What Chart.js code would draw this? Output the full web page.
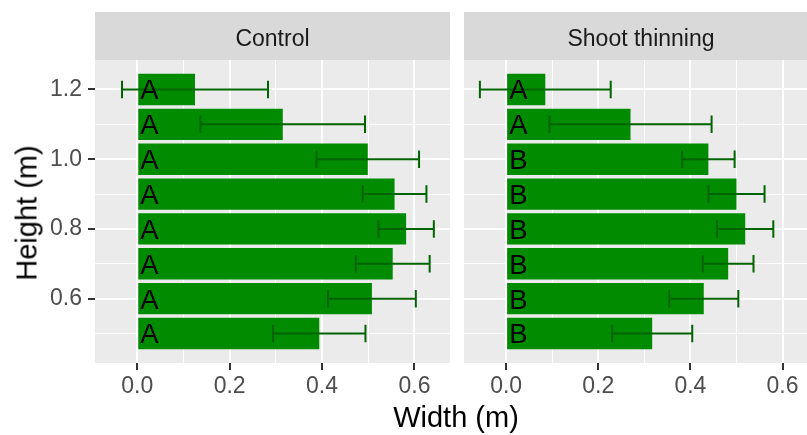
<!DOCTYPE html>
<html>
<head>
<meta charset="utf-8">
<script src="https://cdn.jsdelivr.net/npm/chart.js@4.4.1/dist/chart.umd.min.js"></script>
<style>
  html, body { margin: 0; padding: 0; background: #fff; overflow: hidden; width: 807px; height: 435px; }
  .panel { position: absolute; top: 0; height: 435px; }
  #left-wrap { left: 0; width: 450px; }
  #right-wrap { left: 464px; width: 354px; }
  .axis-title { position: absolute; font-family: "Liberation Sans", Arial, sans-serif; font-size: 29px; color: #000; white-space: nowrap; line-height: 1; }
  #x-title { left: 456px; top: 417px; transform: translate(-50%, -50%); }
  #y-title { left: 27px; top: 213px; transform: translate(-50%, -50%) rotate(-90deg); }
</style>
</head>
<body>
<div class="panel" id="left-wrap"><canvas id="controlChart"></canvas></div>
<div class="panel" id="right-wrap"><canvas id="thinningChart"></canvas></div>
<div class="axis-title" id="x-title">Width (m)</div>
<div class="axis-title" id="y-title">Height (m)</div>
<script>
// data (bottom to top)
const heights = [0.5, 0.6, 0.7, 0.8, 0.9, 1.0, 1.1, 1.2];
const controlWidth = [0.394, 0.508, 0.553, 0.582, 0.557, 0.499, 0.315, 0.125];
const controlErr = [0.100, 0.095, 0.080, 0.060, 0.069, 0.111, 0.178, 0.158];
const controlLetters = ['A', 'A', 'A', 'A', 'A', 'A', 'A', 'A'];
const thinningWidth = [0.317, 0.429, 0.482, 0.519, 0.500, 0.439, 0.270, 0.085];
const thinningErr = [0.087, 0.075, 0.055, 0.061, 0.061, 0.057, 0.176, 0.142];
const thinningLetters = ['B', 'B', 'B', 'B', 'B', 'B', 'A', 'A'];
const xTicks = [0, 0.2, 0.4, 0.6];
const yTicks = [0.6, 0.8, 1.0, 1.2];

const FONT = "'Liberation Sans', Arial, sans-serif";
Chart.defaults.font.family = FONT;

const isMajor = (v, list) => list.some(t => Math.abs(t - v) < 1e-6);

const panelPlugin = {
    id: 'panel',
    beforeDraw(chart, args, opts) {
        const { ctx, chartArea: a } = chart;
        ctx.save();
        ctx.fillStyle = '#EBEBEB';
        ctx.fillRect(a.left, a.top, a.right - a.left, a.bottom - a.top);
        // facet strip
        ctx.fillStyle = '#D9D9D9';
        ctx.fillRect(a.left, 12, a.right - a.left, a.top - 12);
        ctx.fillStyle = '#1A1A1A';
        ctx.font = '23px ' + FONT;
        ctx.textAlign = 'center';
        ctx.textBaseline = 'alphabetic';
        ctx.fillText(opts.strip, (a.left + a.right) / 2, 37.5 + 0.716 * 23 / 2);
        ctx.restore();
    },
    afterDatasetsDraw(chart, args, opts) {
        const { ctx, scales: { x, y } } = chart;
        ctx.save();
        ctx.strokeStyle = '#006400';
        ctx.lineWidth = 2;
        heights.forEach((h, i) => {
            const x0 = x.getPixelForValue(opts.widths[i] - opts.errs[i]);
            const x1 = x.getPixelForValue(opts.widths[i] + opts.errs[i]);
            const cy = y.getPixelForValue(h);
            const half = Math.abs(y.getPixelForValue(h + 0.025) - cy);
            ctx.beginPath();
            ctx.moveTo(x0, cy); ctx.lineTo(x1, cy);
            ctx.moveTo(x0, cy - half); ctx.lineTo(x0, cy + half);
            ctx.moveTo(x1, cy - half); ctx.lineTo(x1, cy + half);
            ctx.stroke();
        });
        ctx.fillStyle = '#000';
        ctx.font = '27.5px ' + FONT;
        ctx.textAlign = 'left';
        ctx.textBaseline = 'alphabetic';
        heights.forEach((h, i) => {
            ctx.fillText(opts.letters[i], x.getPixelForValue(0) + 3, y.getPixelForValue(h) + 0.716 * 27.5 / 2);
        });
        ctx.restore();
    }
};

function makePanel(canvasId, widths, errs, letters, strip, showY) {
    return new Chart(document.getElementById(canvasId), {
        type: 'bar',
        data: {
            datasets: [{
                data: heights.map((h, i) => ({ x: widths[i], y: h })),
                backgroundColor: '#008B00',
                borderWidth: 0,
                categoryPercentage: 1,
                barPercentage: 0.9
            }]
        },
        options: {
            indexAxis: 'y',
            responsive: true,
            maintainAspectRatio: false,
            animation: false,
            events: [],
            layout: { padding: { top: 60, left: 0, right: 0, bottom: 0 } },
            plugins: {
                legend: { display: false },
                tooltip: { enabled: false },
                panel: { widths, errs, letters, strip }
            },
            scales: {
                x: {
                    type: 'linear',
                    min: -0.0915,
                    max: 0.677,
                    offset: false,
                    border: { display: false },
                    grid: {
                        offset: false,
                        color: '#FFFFFF',
                        lineWidth: c => isMajor(c.tick.value, xTicks) ? 2 : 1,
                        tickColor: c => isMajor(c.tick.value, xTicks) ? '#333333' : 'rgba(0,0,0,0)',
                        tickWidth: 2,
                        tickLength: 7
                    },
                    ticks: {
                        stepSize: 0.1,
                        includeBounds: false,
                        autoSkip: false,
                        maxRotation: 0,
                        padding: 3,
                        color: '#4D4D4D',
                        font: { size: 23 },
                        callback: v => isMajor(v, xTicks) ? v.toFixed(1) : ''
                    },
                    afterFit: s => { s.height = 72; }
                },
                y: {
                    type: 'linear',
                    min: 0.4155,
                    max: 1.2845,
                    offset: false,
                    border: { display: false },
                    grid: {
                        offset: false,
                        color: '#FFFFFF',
                        lineWidth: c => isMajor(c.tick.value, yTicks) ? 2 : 1,
                        tickColor: c => (showY && isMajor(c.tick.value, yTicks)) ? '#333333' : 'rgba(0,0,0,0)',
                        tickWidth: 2,
                        tickLength: 7,
                        drawTicks: showY
                    },
                    ticks: {
                        display: showY,
                        stepSize: 0.1,
                        includeBounds: false,
                        autoSkip: false,
                        padding: 6,
                        color: '#4D4D4D',
                        font: { size: 23 },
                        callback: v => isMajor(v, yTicks) ? v.toFixed(1) : ''
                    },
                    afterFit: s => { s.width = showY ? 95 : 0; }
                }
            }
        },
        plugins: [panelPlugin]
    });
}

makePanel('controlChart', controlWidth, controlErr, controlLetters, 'Control', true);
makePanel('thinningChart', thinningWidth, thinningErr, thinningLetters, 'Shoot thinning', false);
</script>
</body>
</html>
